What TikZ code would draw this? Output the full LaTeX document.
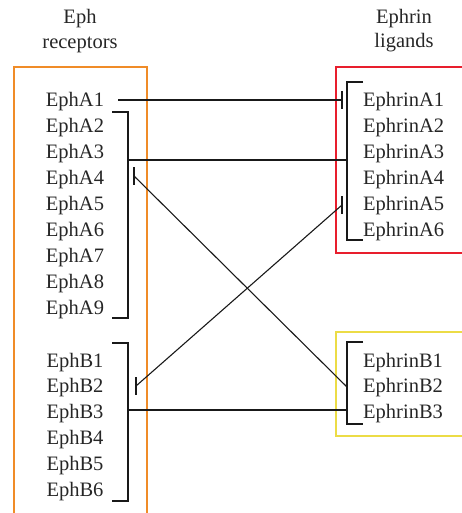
\documentclass[tikz,border=0pt]{standalone}
\usepackage{fontspec}
\setmainfont{Liberation Serif}
\usetikzlibrary{calc}
\definecolor{ephorange}{RGB}{240,140,40}
\definecolor{ephred}{RGB}{232,30,45}
\definecolor{ephyellow}{RGB}{236,220,70}
\tikzset{
	lbl/.style={font=\fontsize{20.5}{24}\selectfont, inner sep=0pt, text=black!85},
	link/.style={draw=black!90, line width=1.1pt},
	boxline/.style={line width=1.1pt}
}
\begin{document}
\begin{tikzpicture}[x=1pt,y=-1pt]
	\useasboundingbox (0,0) rectangle (462,513);
	% titles
	\node[lbl, anchor=base] (t1) at (80,24) {Eph};
	\node[lbl, anchor=base] (t2) at (80,49) {receptors};
	\node[lbl, anchor=base] (t3) at (404,24) {Ephrin};
	\node[lbl, anchor=base] (t4) at (404,48) {ligands};
	% receptors
	\node[lbl, anchor=base] (a1) at (75,107) {EphA1};
	\node[lbl, anchor=base] (a2) at (75,132.9) {EphA2};
	\node[lbl, anchor=base] (a3) at (75,158.8) {EphA3};
	\node[lbl, anchor=base] (a4) at (75,184.7) {EphA4};
	\node[lbl, anchor=base] (a5) at (75,210.6) {EphA5};
	\node[lbl, anchor=base] (a6) at (75,236.5) {EphA6};
	\node[lbl, anchor=base] (a7) at (75,262.4) {EphA7};
	\node[lbl, anchor=base] (a8) at (75,288.3) {EphA8};
	\node[lbl, anchor=base] (a9) at (75,314.2) {EphA9};
	\node[lbl, anchor=base] (b1) at (75,367) {EphB1};
	\node[lbl, anchor=base] (b2) at (75,392.9) {EphB2};
	\node[lbl, anchor=base] (b3) at (75,418.8) {EphB3};
	\node[lbl, anchor=base] (b4) at (75,444.7) {EphB4};
	\node[lbl, anchor=base] (b5) at (75,470.6) {EphB5};
	\node[lbl, anchor=base] (b6) at (75,496.5) {EphB6};
	% ligands
	\node[lbl, anchor=base west] (ea1) at (363,107) {EphrinA1};
	\node[lbl, anchor=base west] (ea2) at (363,132.9) {EphrinA2};
	\node[lbl, anchor=base west] (ea3) at (363,158.8) {EphrinA3};
	\node[lbl, anchor=base west] (ea4) at (363,184.7) {EphrinA4};
	\node[lbl, anchor=base west] (ea5) at (363,210.6) {EphrinA5};
	\node[lbl, anchor=base west] (ea6) at (363,236.5) {EphrinA6};
	\node[lbl, anchor=base west] (eb1) at (363,367) {EphrinB1};
	\node[lbl, anchor=base west] (eb2) at (363,392.9) {EphrinB2};
	\node[lbl, anchor=base west] (eb3) at (363,418.8) {EphrinB3};
	% boxes
	\draw[ephorange, boxline] (14,520) -- (14,67) -- (147,67) -- (147,520);
	\draw[ephred, boxline] (470,67) -- (336,67) -- (336,253) -- (470,253);
	\draw[ephyellow, boxline] (470,332) -- (336,332) -- (336,436) -- (470,436);
	% brackets
	\draw[link] (112,112) -- (128,112) -- (128,318) -- (112,318);
	\draw[link] (112,343) -- (128,343) -- (128,501) -- (112,501);
	\draw[link] (363,82) -- (347,82) -- (347,240) -- (363,240);
	\draw[link] (363,342) -- (347,342) -- (347,424) -- (363,424);
	% ends of the links
	\coordinate (a1e) at (118,100);
	\coordinate (ra1) at (342,100);
	\coordinate (la3) at (128,160);
	\coordinate (ra3) at (347,160);
	\coordinate (la4) at (134,176);
	\coordinate (rb2) at (347,387);
	\coordinate (lb2) at (136,386);
	\coordinate (ra5) at (342,205);
	\coordinate (lb3) at (128,410);
	\coordinate (rb3) at (347,410);
	% links
	\draw[link] (a1e) -- (ra1);
	\draw[link] (ra1) ++(0,-9) -- ++(0,18);
	\draw[link] (la3) -- (ra3);
	\draw[link] (la4) -- (rb2);
	\draw[link] (la4) ++(0,-9) -- ++(0,18);
	\draw[link] (lb2) -- (ra5);
	\draw[link] (lb2) ++(0,-9) -- ++(0,18);
	\draw[link] (ra5) ++(0,-9) -- ++(0,18);
	\draw[link] (lb3) -- (rb3);
\end{tikzpicture}
\end{document}
